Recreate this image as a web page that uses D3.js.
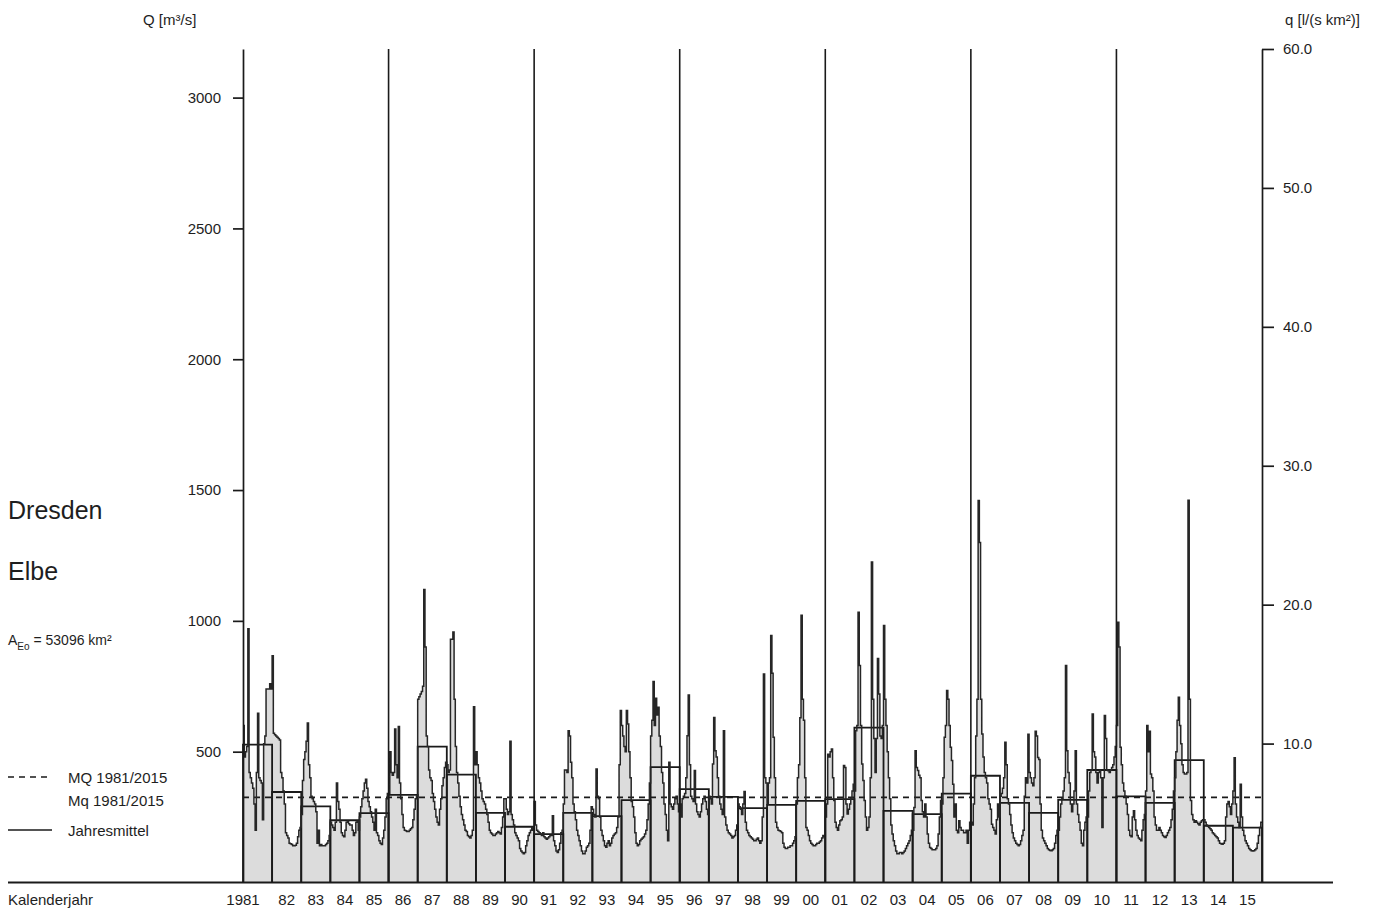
<!DOCTYPE html>
<html>
<head>
<meta charset="utf-8">
<script src="https://cdn.jsdelivr.net/npm/d3@7"></script>
<style>
  html, body { margin: 0; background: #fff; }
  svg text { font-family: "Liberation Sans", Arial, sans-serif; fill: #1e1e1e; }
</style>
</head>
<body>
<svg id="chart" width="1375" height="913"></svg>
<script>
// Elbe at Dresden: semi-monthly discharge Q [m³/s], calendar years 1981–2015
const years = d3.range(1981, 2016);
const yearLabels = ["1981","82","83","84","85","86","87","88","89","90","91","92","93","94","95",
  "96","97","98","99","00","01","02","03","04","05","06","07","08","09","10","11","12","13","14","15"];

// 24 half-month values per calendar year
const semiMonthlyQ = [
  [600,480,500,520,970,420,400,380,360,300,200,420,647,400,390,380,240,530,560,740,740,740,760,740], // 1981
  [867,570,565,560,555,550,545,420,400,350,300,190,180,170,150,148,145,140,140,142,150,175,200,210], // 1982
  [260,390,470,500,540,610,450,400,330,320,310,300,270,150,200,140,145,140,140,140,145,150,160,180], // 1983
  [230,220,210,200,230,380,310,280,230,190,180,175,200,230,235,225,220,220,200,180,190,230,235,200], // 1984
  [250,290,320,350,380,395,360,310,290,270,250,230,200,280,190,180,160,150,145,170,200,250,320,340], // 1985
  [340,500,420,410,420,587,450,400,596,380,320,260,210,200,198,195,195,200,205,210,240,280,320,330], // 1986
  [700,710,720,730,750,1120,900,560,520,430,400,390,340,310,280,250,230,220,280,320,370,400,440,460], // 1987
  [450,420,430,930,930,957,700,520,420,380,330,290,260,240,220,200,195,180,175,170,180,200,672,450], // 1988
  [500,450,400,380,350,320,310,300,280,260,230,200,190,185,180,180,185,190,195,190,185,210,250,320], // 1989
  [320,280,260,270,540,260,240,220,190,180,170,160,130,120,115,110,115,140,160,180,190,200,210,200], // 1990
  [310,220,200,195,190,185,180,190,175,170,165,170,175,180,180,255,160,140,120,115,125,150,190,200], // 1991
  [300,430,430,420,580,560,460,400,300,270,240,200,180,160,140,120,110,110,120,135,140,150,200,290], // 1992
  [280,260,250,434,330,320,250,200,180,160,140,135,150,160,140,150,170,180,185,190,210,250,450,657], // 1993
  [600,560,520,500,657,606,500,400,310,290,250,190,150,140,145,160,165,170,175,185,200,240,300,380], // 1994
  [560,620,768,600,704,640,670,560,520,420,380,300,260,200,160,460,300,290,280,300,320,330,300,270], // 1995
  [300,250,320,330,340,400,561,717,450,330,320,310,428,300,270,260,250,270,300,320,330,310,280,260], // 1996
  [330,320,300,453,631,504,480,400,330,300,280,260,580,250,220,200,190,185,180,170,175,180,200,220], // 1997
  [300,290,280,260,300,348,230,200,190,180,175,170,165,160,160,165,170,160,150,160,250,797,400,380], // 1998
  [300,380,400,944,800,555,400,230,210,200,198,195,190,150,135,130,130,135,135,140,140,150,160,175], // 1999
  [300,400,450,630,1021,700,620,400,210,200,180,160,150,145,140,140,145,150,150,155,160,170,180,175], // 2000
  [250,300,490,480,500,510,400,313,230,210,200,220,236,240,250,447,440,300,262,280,300,320,350,376], // 2001
  [350,580,600,1033,829,600,453,390,313,250,200,210,250,400,1225,700,550,420,550,856,720,560,550,600], // 2002
  [982,700,600,500,400,320,220,185,160,140,120,110,110,115,115,110,115,120,130,140,150,160,180,200], // 2003
  [200,287,504,440,428,410,400,313,270,250,300,250,185,150,134,130,125,125,125,130,140,185,250,313], // 2004
  [300,400,555,600,734,700,600,517,466,376,250,300,200,190,236,210,200,200,190,190,200,150,200,230], // 2005
  [230,220,300,400,560,700,1460,1300,700,568,480,420,400,380,320,300,280,223,210,200,185,240,300,250], // 2006
  [330,340,360,400,536,450,320,300,260,220,190,170,160,150,145,140,145,160,180,200,330,400,380,567], // 2007
  [420,400,380,370,400,578,560,478,470,300,200,170,160,150,140,130,125,122,121,125,130,150,180,200], // 2008
  [200,250,300,320,350,400,829,504,420,380,300,270,300,350,504,300,260,230,200,150,140,200,230,250], // 2009
  [250,350,420,430,644,500,480,420,380,420,430,400,210,400,638,550,430,427,420,430,440,450,480,520], // 2010
  [600,995,900,517,450,380,350,330,300,260,200,180,175,250,274,240,200,180,170,165,160,200,240,260], // 2011
  [350,600,500,578,415,400,350,250,220,200,200,210,200,190,180,175,172,180,190,200,210,240,280,350], // 2012
  [400,500,620,708,600,530,450,420,415,415,420,1461,700,313,260,240,230,236,230,225,220,230,236,240], // 2013
  [240,230,220,215,210,205,200,190,185,180,175,170,160,150,148,146,150,160,250,300,310,290,260,300], // 2014
  [350,477,300,250,230,210,376,250,200,180,160,150,140,130,125,121,120,121,125,130,150,180,210,230]  // 2015
];

// Jahresmittel (annual mean discharge)
const annualMeanQ = [527,346,291,238,265,335,519,412,266,213,185,266,254,315,441,357,327,284,297,312,
  319,592,274,261,340,408,304,266,316,430,329,304,468,217,210];

const mqLongTerm = 325;          // MQ 1981/2015
const catchmentArea = 53096;     // km²
const qTicks = [500, 1000, 1500, 2000, 2500, 3000];
const specTicks = [10, 20, 30, 40, 50, 60];
const fiveYearLines = [1986, 1991, 1996, 2001, 2006, 2011];

const svg = d3.select("#chart");
const ink = "#1a1a1a";

const x = d3.scaleLinear().domain([1981, 2016]).range([243, 1262]);
const qTop = 60 * catchmentArea / 1000;   // Q equivalent of 60 l/(s km²)
const yQ = d3.scaleLinear().domain([0, qTop]).range([882.5, 49]);
const ySpec = d3.scaleLinear().domain([0, 60]).range([882.5, 49]);

// flatten to a step series
const series = [];
semiMonthlyQ.forEach((vals, i) => {
  vals.forEach((q, k) => series.push({ t: years[i] + k / 24, q }));
});
series.push({ t: 2016, q: series[series.length - 1].q });

const area = d3.area().x(d => x(d.t)).y0(yQ(0)).y1(d => yQ(d.q)).curve(d3.curveStepAfter);
const line = d3.line().x(d => x(d.t)).y(d => yQ(d.q)).curve(d3.curveStepAfter);

svg.append("path").datum(series).attr("d", area).attr("fill", "#dcdcdc");

// annual mean blocks
svg.append("g").selectAll("path").data(annualMeanQ).join("path")
  .attr("d", (m, i) => {
    const x0 = x(years[i]), x1 = x(years[i] + 1), yb = yQ(0), ym = yQ(m);
    return `M${x0},${yb}L${x0},${ym}L${x1},${ym}L${x1},${yb}`;
  })
  .attr("fill", "none").attr("stroke", ink).attr("stroke-width", 1.8);

// long-term mean
svg.append("line")
  .attr("x1", x(1981)).attr("x2", x(2016))
  .attr("y1", yQ(mqLongTerm)).attr("y2", yQ(mqLongTerm))
  .attr("stroke", ink).attr("stroke-width", 1.7).attr("stroke-dasharray", "6,5");

svg.append("path").datum(series).attr("d", line)
  .attr("fill", "none").attr("stroke", "#262626").attr("stroke-width", 1.5)
  .attr("stroke-linejoin", "miter");

// five-year grid lines
svg.append("g").selectAll("line").data(fiveYearLines).join("line")
  .attr("x1", d => x(d)).attr("x2", d => x(d))
  .attr("y1", yQ(0)).attr("y2", yQ(qTop))
  .attr("stroke", ink).attr("stroke-width", 1.6);

// left axis Q
const gL = svg.append("g").attr("transform", `translate(${x(1981)},0)`)
  .call(d3.axisLeft(yQ).tickValues(qTicks).tickFormat(d3.format("d"))
    .tickSize(10).tickSizeOuter(0).tickPadding(12));
// right axis q
const gR = svg.append("g").attr("transform", `translate(${x(2016)},0)`)
  .call(d3.axisRight(ySpec).tickValues(specTicks).tickFormat(d3.format(".1f"))
    .tickSize(12).tickSizeOuter(0).tickPadding(9));
[gL, gR].forEach(g => {
  g.select(".domain").attr("stroke", ink).attr("stroke-width", 1.7);
  g.selectAll(".tick line").attr("stroke", ink).attr("stroke-width", 1.7);
  g.selectAll(".tick text").attr("font-size", 15).attr("font-family", null).attr("fill", ink);
});

// bottom baseline
svg.append("line").attr("x1", 8).attr("x2", 1333)
  .attr("y1", yQ(0)).attr("y2", yQ(0))
  .attr("stroke", ink).attr("stroke-width", 2.2);

// year labels
svg.append("g").selectAll("text").data(years).join("text")
  .attr("x", (d, i) => i === 0 ? x(d) : x(d + 0.5))
  .attr("y", 905).attr("text-anchor", "middle").attr("font-size", 15)
  .text((d, i) => yearLabels[i]);

svg.append("text").attr("x", 8).attr("y", 905).attr("font-size", 15).text("Kalenderjahr");

// axis titles
svg.append("text").attr("x", 143).attr("y", 25).attr("font-size", 15).text("Q [m³/s]");
svg.append("text").attr("x", 1285).attr("y", 25).attr("font-size", 15).text("q [l/(s km²)]");

// station block
svg.append("text").attr("x", 8).attr("y", 519).attr("font-size", 25).text("Dresden");
svg.append("text").attr("x", 8).attr("y", 580).attr("font-size", 25).text("Elbe");
const ae = svg.append("text").attr("x", 8).attr("y", 645).attr("font-size", 14);
ae.append("tspan").text("A");
ae.append("tspan").attr("font-size", 10).attr("dy", 5).text("Eo");
ae.append("tspan").attr("dy", -5).text(" = 53096 km²");

// legend
svg.append("line").attr("x1", 8).attr("x2", 52).attr("y1", 777).attr("y2", 777)
  .attr("stroke", ink).attr("stroke-width", 1.4).attr("stroke-dasharray", "6,5");
svg.append("text").attr("x", 68).attr("y", 783).attr("font-size", 15).text("MQ 1981/2015");
svg.append("text").attr("x", 68).attr("y", 806).attr("font-size", 15).text("Mq 1981/2015");
svg.append("line").attr("x1", 8).attr("x2", 52).attr("y1", 830).attr("y2", 830)
  .attr("stroke", ink).attr("stroke-width", 1.4);
svg.append("text").attr("x", 68).attr("y", 836).attr("font-size", 15).text("Jahresmittel");
</script>
</body>
</html>
